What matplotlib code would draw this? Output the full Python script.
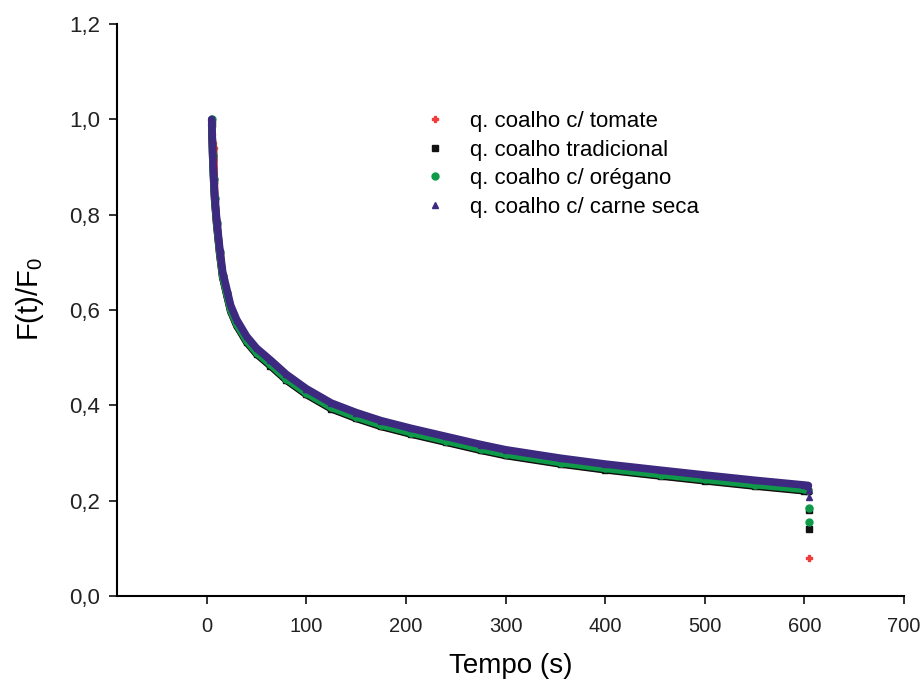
import matplotlib
matplotlib.use("Agg")
import matplotlib.pyplot as plt
import matplotlib.ticker as ticker
from matplotlib.lines import Line2D

plt.rcParams["font.family"] = ["Liberation Sans", "DejaVu Sans"]
plt.rcParams["mathtext.fontset"] = "custom"
plt.rcParams["mathtext.rm"] = "Liberation Sans"
plt.rcParams["mathtext.it"] = "Liberation Sans"
plt.rcParams["mathtext.default"] = "regular"

# dados
tempo = [5, 6, 7, 8, 10, 13, 16, 20, 24, 30, 40, 50, 64, 80, 100, 125, 150,
         175, 205, 240, 275, 300, 356, 400, 456, 500, 550, 600, 604]

carne_seca = [1.0, 0.93, 0.88, 0.84, 0.79, 0.73, 0.68, 0.645, 0.61, 0.58,
              0.545, 0.52, 0.495, 0.465, 0.435, 0.405, 0.385, 0.368, 0.352,
              0.335, 0.318, 0.307, 0.289, 0.277, 0.264, 0.254, 0.243, 0.233,
              0.232]
oregano = [1.0, 0.925, 0.875, 0.835, 0.783, 0.722, 0.672, 0.636, 0.601,
           0.571, 0.536, 0.511, 0.486, 0.456, 0.426, 0.396, 0.376, 0.359,
           0.343, 0.326, 0.309, 0.298, 0.280, 0.268, 0.255, 0.245, 0.234,
           0.224, 0.223]
tradicional = [0.99, 0.92, 0.87, 0.83, 0.78, 0.719, 0.669, 0.633, 0.598,
               0.568, 0.533, 0.508, 0.483, 0.453, 0.423, 0.393, 0.373, 0.356,
               0.340, 0.323, 0.306, 0.295, 0.277, 0.265, 0.252, 0.242, 0.231,
               0.221, 0.220]
tomate = [0.97, 0.95, 0.94, 0.832, 0.781, 0.72, 0.67, 0.634, 0.599, 0.569,
          0.534, 0.509, 0.484, 0.454, 0.424, 0.394, 0.374, 0.357, 0.341,
          0.324, 0.307, 0.296, 0.278, 0.266, 0.253, 0.243, 0.232, 0.222,
          0.221]

# queda final (descarregamento)
tempo_fim = 605
carne_seca_fim = [0.222, 0.207]
oregano_fim = [0.185, 0.155]
tradicional_fim = [0.18, 0.14]
tomate_fim = [0.08]

labels = ["q. coalho c/ tomate", "q. coalho tradicional",
          "q. coalho c/ orégano", "q. coalho c/ carne seca"]
cores = ["#f03c3c", "#111111", "#0f9a4a", "#3d2a80"]
marcadores = ["P", "s", "o", "^"]

series = [(tomate, tomate_fim), (tradicional, tradicional_fim),
          (oregano, oregano_fim), (carne_seca, carne_seca_fim)]

fig = plt.figure(figsize=(9.22, 6.86), dpi=100)
ax = fig.add_axes([0.127, 0.131, 0.8535, 0.834])

for (vals, fim), cor, mk in zip(series, cores, marcadores):
    ax.plot(tempo, vals, color=cor, lw=5.5, solid_capstyle="round",
            marker=mk, ms=5, mec=cor, mfc=cor)
    ax.plot([tempo_fim] * len(fim), fim, ls="none", marker=mk, ms=5,
            color=cor)

# eixos
ax.set_xlim(-90, 700)
ax.set_ylim(0, 1.2)
ax.set_xticks(range(0, 701, 100))
ax.set_yticks([0, 0.2, 0.4, 0.6, 0.8, 1.0, 1.2])
ax.yaxis.set_major_formatter(
    ticker.FuncFormatter(lambda v, p: f"{v:.1f}".replace(".", ",")))
ax.tick_params(axis="both", direction="out", length=6, width=1.3,
               colors="#222222")
ax.tick_params(axis="x", pad=9, labelsize=14.5)
ax.tick_params(axis="y", pad=6, labelsize=16)

ax.spines["top"].set_visible(False)
ax.spines["right"].set_visible(False)
ax.spines["left"].set_linewidth(1.5)
ax.spines["bottom"].set_linewidth(1.5)

ax.set_xlabel("Tempo (s)", fontsize=20, labelpad=12)
ax.set_ylabel("F(t)/F$_0$", fontsize=21)
ax.yaxis.set_label_coords(-0.09, 0.52)

handles = [Line2D([], [], ls="none", marker=mk, ms=5, color=c)
           for mk, c in zip(marcadores, cores)]
ax.legend(handles, labels, loc="upper left", bbox_to_anchor=(0.39, 0.848),
          frameon=False, fontsize=16, handletextpad=1.05,
          labelspacing=0.34, handlelength=1.0, borderpad=0,
          borderaxespad=0)

fig.savefig("out.png", dpi=100)
